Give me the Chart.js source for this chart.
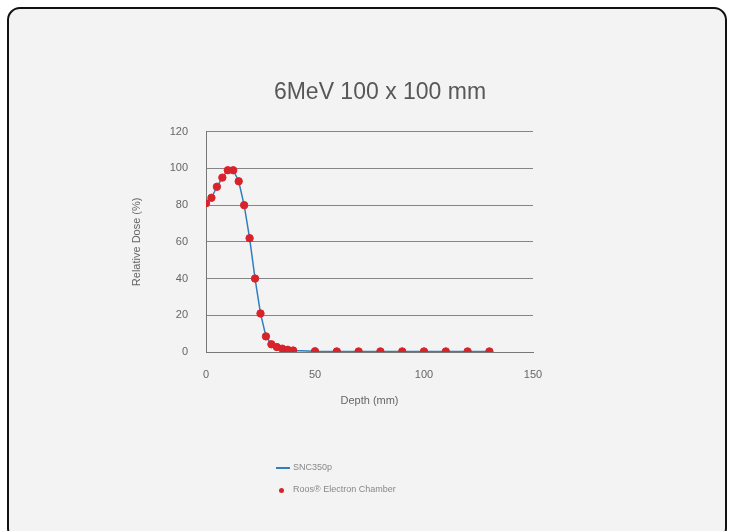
<!DOCTYPE html>
<html>
<head>
<meta charset="utf-8">
<script src="https://cdn.jsdelivr.net/npm/chart.js@4"></script>
<style>
  html, body { margin: 0; padding: 0; background: #fff; }
  #wrap { position: relative; width: 732px; height: 531px; overflow: hidden; }
  #frame {
    position: absolute; left: 7px; top: 7px; width: 716px; height: 530px;
    border: 2px solid #111; border-radius: 13px; background: #f3f3f3;
  }
  #chart { position: absolute; left: 0; top: 0; }
  #title {
    position: absolute; left: 0; width: 760px; top: 78px; text-align: center;
    font-family: "Liberation Sans", Arial, sans-serif; font-size: 23px; color: #585858;
  }
  #legend {
    position: absolute; left: 276px; top: 456px;
    font-family: "Liberation Sans", Arial, sans-serif; font-size: 9px; color: #888;
  }
  #legend div { height: 22px; line-height: 22px; white-space: nowrap; }
  #legend .sw { display: inline-block; width: 14px; vertical-align: middle; margin-right: 3px; }
</style>
</head>
<body>
<div id="wrap">
  <div id="frame"></div>
  <canvas id="chart" width="732" height="531"></canvas>
  <div id="title">6MeV 100 x 100 mm</div>
  <div id="legend"></div>
</div>
<script>
// depth in mm
const depth = [0, 2.5, 5, 7.5, 10, 12.5, 15, 17.5, 20, 22.5, 25, 27.5, 30, 32.5, 35, 37.5, 40,
  50, 60, 70, 80, 90, 100, 110, 120, 130];
// SNC350p profile (%)
const snc350p = [81, 84, 90, 95, 99, 99, 93, 80, 62, 40, 21, 8.5, 4.2, 2.7, 1.8, 1.2, 0.8,
  0.4, 0.3, 0.3, 0.3, 0.3, 0.3, 0.3, 0.3, 0.3];
// Roos electron chamber (%)
const roos = [81, 84, 90, 95, 99, 99, 93, 80, 62, 40, 21, 8.5, 4.2, 2.7, 1.8, 1.2, 0.8,
  0.4, 0.3, 0.3, 0.3, 0.3, 0.3, 0.3, 0.3, 0.3];
const yTicks = [0, 20, 40, 60, 80, 100, 120];
const xTicks = [0, 50, 100, 150];

const toXY = (vals) => vals.map((v, i) => ({ x: depth[i], y: v }));

const font = { family: '"Liberation Sans", Arial, sans-serif', size: 11 };

const chart = new Chart(document.getElementById('chart'), {
  type: 'line',
  data: {
    datasets: [
      {
        label: 'SNC350p',
        data: toXY(snc350p),
        borderColor: '#2f7fbd',
        borderWidth: 1.5,
        pointRadius: 0,
        tension: 0,
        order: 2
      },
      {
        label: 'Roos\u00ae Electron Chamber',
        data: toXY(roos),
        showLine: false,
        pointRadius: 3.7,
        pointBackgroundColor: '#d8232a',
        pointBorderColor: '#d8232a',
        order: 1
      }
    ]
  },
  options: {
    responsive: false,
    animation: false,
    layout: { padding: { left: 126, right: 199, top: 131.7, bottom: 119 } },
    plugins: { legend: { display: false }, tooltip: { enabled: false } },
    scales: {
      x: {
        type: 'linear',
        min: 0, max: 150,
        afterBuildTicks: (s) => { s.ticks = xTicks.map(v => ({ value: v })); },
        afterFit: (s) => { s.height = 60; },
        grid: { display: false, drawTicks: false },
        border: { display: true, color: '#777', width: 1 },
        ticks: { color: '#666', font, padding: 16 },
        title: { display: true, text: 'Depth (mm)', color: '#666', font, padding: { top: 14 } }
      },
      y: {
        min: 0, max: 120,
        afterBuildTicks: (s) => { s.ticks = yTicks.map(v => ({ value: v })); },
        afterFit: (s) => { s.width = 80; },
        grid: { color: '#858585', lineWidth: 1, drawTicks: false },
        border: { display: true, color: '#777', width: 1 },
        ticks: { color: '#666', font, padding: 18 },
        title: { display: true, text: 'Relative Dose (%)', color: '#666', font, padding: { bottom: 10 } }
      }
    }
  }
});

// legend built from the datasets
const legend = document.getElementById('legend');
chart.data.datasets.forEach((ds) => {
  const row = document.createElement('div');
  const sw = document.createElement('span');
  sw.className = 'sw';
  if (ds.showLine === false) {
    sw.innerHTML = '<span style="display:inline-block;width:5px;height:5px;border-radius:50%;background:' +
      ds.pointBackgroundColor + ';margin-left:3px"></span>';
  } else {
    sw.style.height = '2px';
    sw.style.background = ds.borderColor;
  }
  row.appendChild(sw);
  row.appendChild(document.createTextNode(ds.label));
  legend.appendChild(row);
});
</script>
</body>
</html>
